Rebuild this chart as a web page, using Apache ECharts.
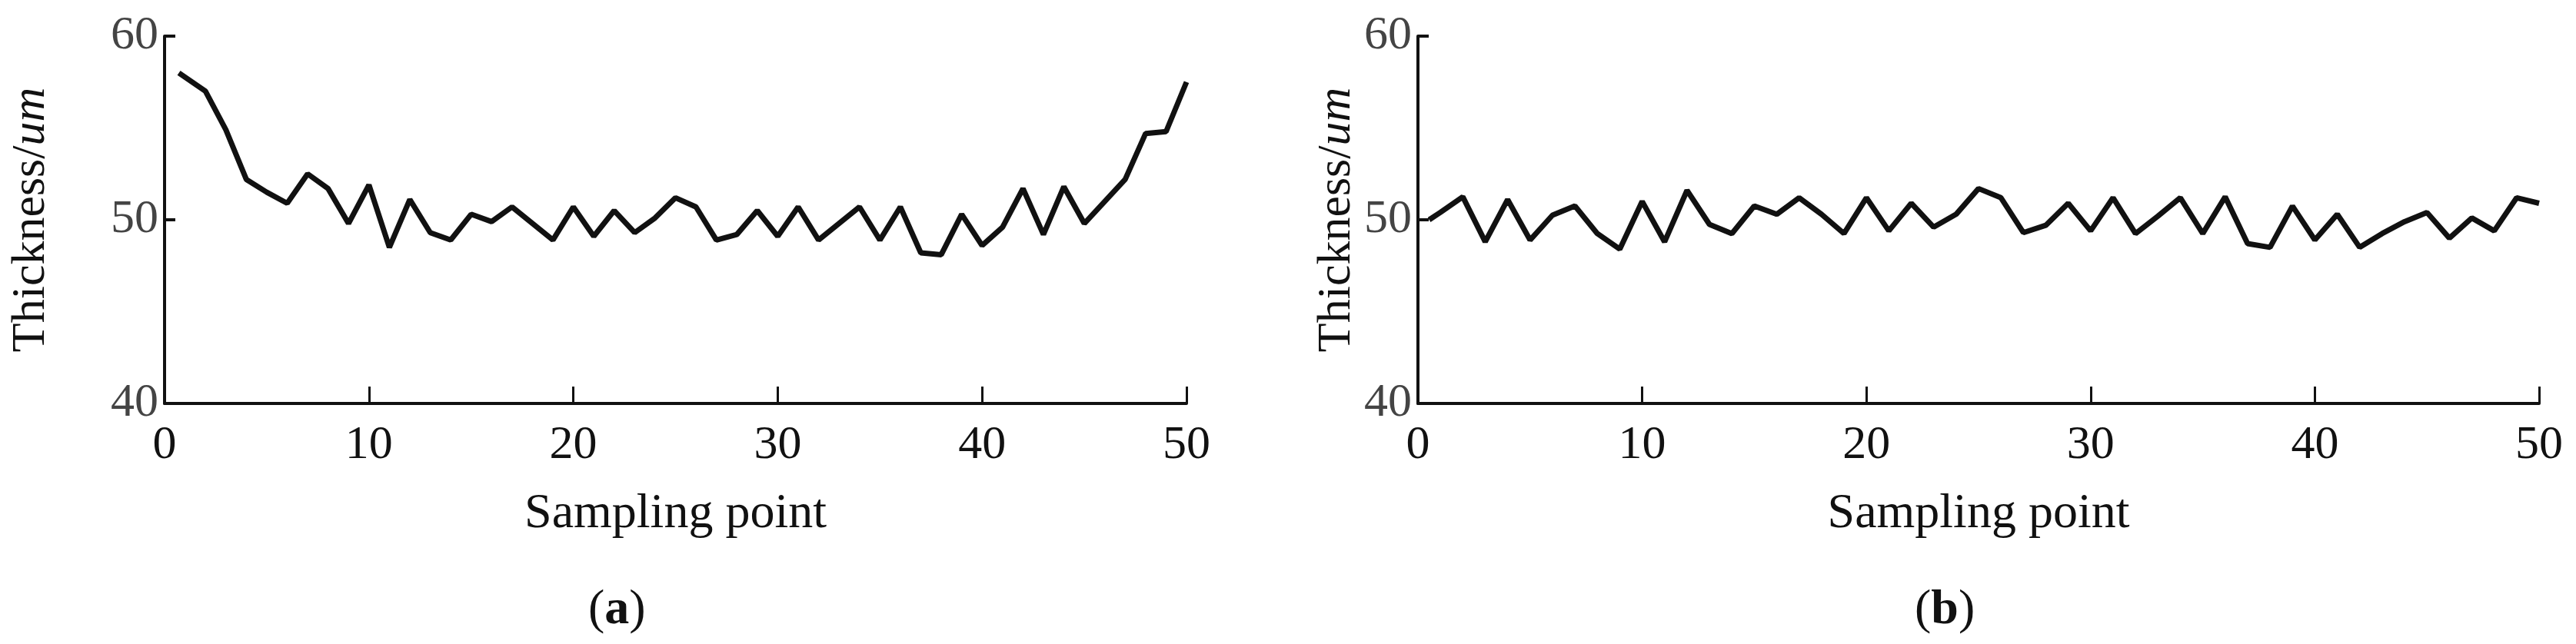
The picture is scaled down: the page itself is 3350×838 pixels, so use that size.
<!DOCTYPE html>
<html>
<head>
<meta charset="utf-8">
<script src="https://cdn.jsdelivr.net/npm/echarts@6/dist/echarts.min.js"></script>
<style>html,body{margin:0;background:#fff}#chart{width:3350px;height:838px}</style>
</head>
<body>
<div id="chart"></div>
<script>
// 采样点厚度 (a) / (b)
var samplesA = [0.7,2,3,4,5,6,7,8,9,10,11,12,13,14,15,16,17,18,19,20,21,22,23,24,25,26,27,28,29,30,31,32,33,34,35,36,37,38,39,40,41,42,43,44,45,46,47,48,49,50];
var thicknessA = [58.0,57.0,54.9,52.2,51.5,50.9,52.5,51.7,49.8,51.9,48.5,51.1,49.3,48.9,50.3,49.9,50.7,49.8,48.9,50.7,
    49.1,50.5,49.3,50.1,51.2,50.7,48.9,49.2,50.5,49.1,50.7,48.9,49.8,50.7,48.9,50.7,48.2,48.1,50.3,48.6,
    49.6,51.7,49.2,51.8,49.8,51.0,52.2,54.7,54.8,57.5];
var samplesB = [0.5,1,2,3,4,5,6,7,8,9,10,11,12,13,14,15,16,17,18,19,20,21,22,23,24,25,26,27,28,29,30,31,32,33,34,35,36,37,38,39,40,41,42,43,44,45,46,47,48,49,50];
var thicknessB = [50.0,50.4,51.25,48.8,51.1,48.9,50.25,50.75,49.25,48.4,51.0,48.8,51.6,49.75,49.25,50.75,50.3,51.2,50.3,49.25,51.2,
    49.4,50.9,49.6,50.3,51.7,51.2,49.3,49.7,50.9,49.4,51.2,49.25,50.2,51.2,49.25,51.25,48.7,48.5,50.75,48.9,
    50.3,48.5,49.25,49.9,50.4,49.0,50.1,49.4,51.2,50.9];
var xTicks = [0, 50, 10];   // min, max, interval
var yTicks = [40, 60, 10];

function pairs(xs, ys) {
    return xs.map(function (x, i) { return [x, ys[i]]; });
}

var font = 'Liberation Serif';
var black = '#111';

function xAxis(idx) {
    return {
        type: 'value', gridIndex: idx, min: xTicks[0], max: xTicks[1], interval: xTicks[2],
        name: 'Sampling point', nameLocation: 'middle', nameGap: 112,
        nameTextStyle: { fontFamily: font, fontSize: 64, color: black },
        axisLine: { lineStyle: { color: black, width: 4 } },
        axisTick: { inside: true, length: 22, lineStyle: { color: black, width: 3 } },
        axisLabel: { fontFamily: font, fontSize: 62, color: black, margin: 24 },
        splitLine: { show: false }
    };
}
function yAxis(idx, gap) {
    return {
        type: 'value', gridIndex: idx, min: yTicks[0], max: yTicks[1], interval: yTicks[2],
        name: '{n|Thickness/}{i|um}', nameLocation: 'middle', nameGap: gap,
        nameTextStyle: { rich: {
            n: { fontFamily: font, fontSize: 62, color: black },
            i: { fontFamily: font, fontSize: 62, color: black, fontStyle: 'italic' }
        } },
        axisLine: { lineStyle: { color: black, width: 4 } },
        axisTick: { inside: true, length: 14, lineStyle: { color: black, width: 4 } },
        axisLabel: { fontFamily: font, fontSize: 62, color: '#444', margin: 8 },
        splitLine: { show: false }
    };
}
function series(idx, data) {
    return {
        type: 'line', xAxisIndex: idx, yAxisIndex: idx, data: data,
        symbol: 'none', lineStyle: { color: black, width: 7 }, animation: false
    };
}

var myChart = echarts.init(document.getElementById('chart'));
myChart.setOption({
    backgroundColor: '#fff',
    grid: [
        { left: 214, width: 1329, top: 47, height: 478 },
        { left: 1844, width: 1458, top: 47, height: 478 }
    ],
    xAxis: [xAxis(0), xAxis(1)],
    yAxis: [yAxis(0, 142), yAxis(1, 62)],
    series: [series(0, pairs(samplesA, thicknessA)), series(1, pairs(samplesB, thicknessB))],
    graphic: [
        { type: 'text', left: 765, top: 762, style: { rich: {
            p: { fontFamily: font, fontSize: 64, fill: black },
            b: { fontFamily: font, fontSize: 64, fill: black, fontWeight: 'bold' }
        }, text: '{p|(}{b|a}{p|)}' } },
        { type: 'text', left: 2490, top: 762, style: { rich: {
            p: { fontFamily: font, fontSize: 64, fill: black },
            b: { fontFamily: font, fontSize: 64, fill: black, fontWeight: 'bold' }
        }, text: '{p|(}{b|b}{p|)}' } }
    ]
});
</script>
</body>
</html>
